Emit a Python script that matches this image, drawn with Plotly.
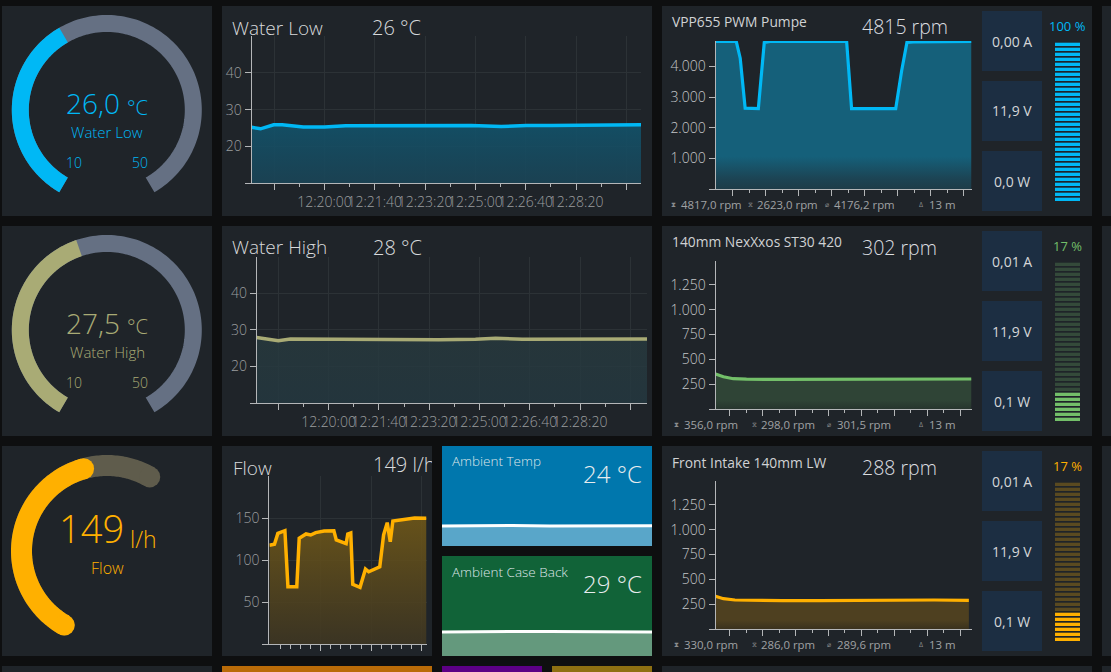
import numpy as np
import pandas as pd
import plotly.graph_objects as go

W, H = 1111, 672
FONT = "Open Sans"
BG = "#0e0f10"
PANEL = "#1f2429"
GRID = "#2c3236"
AXIS = "#b4b6b8"
TICKTXT = "#9b9d9f"
BOX = "#1c2e42"
TRACK = "#657083"

# ---------- data ----------
gauge_names = ["Water Low", "Water High", "Flow"]
gauge_values = [26.0, 27.5, 149]
gauge_labels = ["26,0", "27,5", "149"]
gauge_units = ["°C", "°C", "l/h"]
gauge_ranges = [(10, 50), (10, 50), (0, 200)]

low_secs = [0, 18, 44, 61, 103, 145, 187, 253, 337, 437, 496, 546, 596, 671, 774]
low_vals = [25.2, 24.8, 25.9, 25.9, 25.3, 25.3, 25.6, 25.6, 25.65, 25.7, 25.4, 25.7, 25.7, 25.8, 25.9]
high_secs = [0, 17, 43, 67, 130, 196, 362, 435, 475, 528, 594, 776]
high_vals = [27.9, 27.5, 27.0, 27.5, 27.44, 27.26, 27.26, 27.44, 27.7, 27.44, 27.44, 27.5]
flow_secs = [0, 25, 42, 59, 77, 92, 136, 148, 182, 205, 230, 272, 320, 332, 381, 389, 404, 414, 450,
             477, 493, 548, 567, 585, 600, 613, 669, 721, 780]
flow_vals = [117.5, 118.7, 131.7, 133.7, 134.9, 68.3, 68.3, 125.8, 131, 129.8, 132.6, 134.5, 134.9, 123.8,
             119.4, 131, 132.2, 71, 67.5, 89.3, 86, 92, 129.8, 144.5, 121.8, 146.4, 148.8, 150, 149.6]
pump_secs = [0, 63, 75, 90, 130, 148, 166, 398, 413, 547, 565, 581, 600, 777]
pump_vals = [4815, 4815, 4270, 2640, 2623, 4780, 4815, 4815, 2623, 2623, 3860, 4780, 4800, 4815]
nex_secs = [0, 24, 54, 94, 200, 400, 600, 777]
nex_vals = [352, 325, 305, 300, 298, 300, 302, 302]
front_secs = [0, 24, 59, 114, 204, 314, 534, 594, 664, 769]
front_vals = [330, 305, 292, 288, 286, 286, 292, 288, 292, 288]
temp_secs = [0, 120, 260, 400, 540, 680, 780]
temp_vals = [24.0, 24.01, 24.03, 24.0, 24.01, 24.0, 24.01]
case_vals = [29.0, 29.02, 29.03, 29.02, 29.01, 29.02, 29.0]

water_ticks = ["12:18:20", "12:20:00", "12:21:40", "12:23:20", "12:25:00", "12:26:40", "12:28:20", "12:30:00"]
water_labels = ["", "12:20:00", "12:21:40", "12:23:20", "12:25:00", "12:26:40", "12:28:20", ""]
water_minor = ["12:19:10", "12:20:50", "12:22:30", "12:24:10", "12:25:50", "12:27:30", "12:29:10"]
flow_ticks = ["12:21:40", "12:25:50", "12:30:00"]
flow_minor = ["12:18:20", "12:19:10", "12:20:00", "12:20:50", "12:22:30", "12:23:20", "12:24:10", "12:25:00",
              "12:26:40", "12:27:30", "12:28:20", "12:29:10"]

fan_names = ["VPP655 PWM Pumpe", "140mm NexXxos ST30 420", "Front Intake 140mm LW"]
fan_current = ["4815 rpm", "302 rpm", "288 rpm"]
fan_stats = [["4817,0 rpm", "2623,0 rpm", "4176,2 rpm", "13 m"],
             ["356,0 rpm", "298,0 rpm", "301,5 rpm", "13 m"],
             ["330,0 rpm", "286,0 rpm", "289,6 rpm", "13 m"]]
fan_boxes = [["0,00 A", "11,9 V", "0,0 W"], ["0,01 A", "11,9 V", "0,1 W"], ["0,01 A", "11,9 V", "0,1 W"]]
fan_percent = ["100 %", "17 %", "17 %"]
fan_lit = [32, 6, 6]
SEGMENTS = 32

pump_ticks, pump_labels = [0, 1000, 2000, 3000, 4000], ["", "1.000", "2.000", "3.000", "4.000"]
fan_ticks, fan_labels = [0, 250, 500, 750, 1000, 1250], ["", "250", "500", "750", "1.000", "1.250"]

# ---------- helpers ----------
DAY = "2024-01-01 "
def stamp(start, secs):
    base = pd.Timestamp(DAY + start)
    return [str(base + pd.to_timedelta(s, "s")) for s in secs]
def day(times):
    return [DAY + t for t in times]
def dx(a, b):
    return [a / W, b / W]
def dy(a, b):
    return [1 - b / H, 1 - a / H]

fig = go.Figure()
layout = dict(width=W, height=H, margin=dict(l=0, r=0, t=0, b=0), paper_bgcolor=BG,
              plot_bgcolor="rgba(0,0,0,0)", showlegend=False, autosize=False, barmode="overlay",
              font=dict(family=FONT, color="#d0d2d4"), hovermode=False)
shapes, notes = [], []
axis_no = [0]

def new_axes(xdom, ydom, xcfg, ycfg):
    axis_no[0] += 1
    n = axis_no[0]
    sfx = "" if n == 1 else str(n)
    base = dict(fixedrange=True, zeroline=False, showgrid=False, showticklabels=False, ticks="", showline=False)
    layout["xaxis" + sfx] = {**base, "domain": xdom, "anchor": "y" + sfx, **xcfg}
    layout["yaxis" + sfx] = {**base, "domain": ydom, "anchor": "x" + sfx, **ycfg}
    return "x" + sfx, "y" + sfx

def rect(x0, y0, x1, y1, color):
    shapes.append(dict(type="rect", xref="paper", yref="paper", x0=x0 / W, x1=x1 / W, y0=1 - y0 / H, y1=1 - y1 / H,
                       fillcolor=color, line=dict(width=0), layer="below"))

def text(x, y, s, size, color="#d8dadc", anchor="left", weight=300):
    shift = {"left": -2, "right": 2, "center": 0}[anchor]
    notes.append(dict(xref="paper", yref="paper", x=x / W, y=1 - y / H, text=s, showarrow=False, xanchor=anchor,
                      yanchor="middle", xshift=shift, font=dict(family=FONT, size=size, color=color, weight=weight)))

# ---------- panels ----------
for r0, r1 in [(6, 216), (226, 436), (446, 656), (666, 700)]:
    rect(2, r0, 212, r1, PANEL)
    rect(662, r0, 1092, r1, PANEL)
    rect(1102, r0, 1140, r1, PANEL)
rect(222, 6, 652, 216, PANEL)
rect(222, 226, 652, 436, PANEL)
rect(222, 446, 432, 656, PANEL)
rect(442, 446, 652, 546, "#0077ad")
rect(442, 556, 652, 656, "#116338")
rect(222, 666, 432, 700, "#b96b08")
rect(442, 666, 542, 700, "#5c0085")
rect(552, 666, 652, 700, "#8e7012")

# ---------- gauges ----------
overlay_x, overlay_y = new_axes([0, 1], [0, 1], dict(range=[0, W]), dict(range=[H, 0]))
gauge_centers = [(106.8, 110), (106.8, 330), (107, 551)]
gauge_specs = [dict(r=86.5, lw=17, a0=-150, a1=150, color="#00b8f5", track=TRACK, round=False),
               dict(r=86.5, lw=17, a0=-150, a1=150, color="#a9ab75", track=TRACK, round=False),
               dict(r=85.5, lw=21, a0=-150, a1=30, color="#ffb000", track="#5f5c4c", round=True)]

def arc(center, r, a, b):
    t = np.radians(np.linspace(a, b, 160))
    return center[0] + r * np.sin(t), center[1] - r * np.cos(t)

for c, val, rng, sp in zip(gauge_centers, gauge_values, gauge_ranges, gauge_specs):
    stop = sp["a0"] + (val - rng[0]) / (rng[1] - rng[0]) * (sp["a1"] - sp["a0"])
    for a, b, col in [(sp["a0"], sp["a1"], sp["track"]), (sp["a0"], stop, sp["color"])]:
        xs, ys = arc(c, sp["r"], a, b)
        fig.add_trace(go.Scatter(x=xs, y=ys, mode="lines", line=dict(color=col, width=sp["lw"], simplify=False),
                                 xaxis=overlay_x, yaxis=overlay_y, hoverinfo="skip"))
        if sp["round"]:
            fig.add_trace(go.Scatter(x=[xs[0], xs[-1]], y=[ys[0], ys[-1]], mode="markers",
                                     marker=dict(color=col, size=sp["lw"], line=dict(width=0)),
                                     xaxis=overlay_x, yaxis=overlay_y, hoverinfo="skip"))

for i, (c, sp) in enumerate(zip(gauge_centers, gauge_specs)):
    col = sp["color"]
    if i < 2:
        text(120, c[1] - 7, gauge_labels[i], 28, col, "right")
        text(127, c[1] - 3, gauge_units[i], 20, col)
        text(107, c[1] + 22, gauge_names[i], 15, col, "center")
        text(74, c[1] + 52, str(gauge_ranges[i][0]), 14, col, "center")
        text(140, c[1] + 52, str(gauge_ranges[i][1]), 14, col, "center")
    else:
        text(124, c[1] - 23, gauge_labels[i], 38, col, "right")
        text(130, c[1] - 12, gauge_units[i], 23, col)
        text(107, c[1] + 17, gauge_names[i], 16, col, "center")

# ---------- water / flow time series ----------
def series(xd, yd, xs, ys, color, grad, xrange, yrange, ytv, ytt, xtv=None, xtt=None, xminor=None, ygrid=True,
           ytop=None, xgrid=True, tickcol=TICKTXT, fstop=None, minorlen=3, lw=3.5):
    xcfg = dict(type="date", range=xrange, showline=True, linecolor=AXIS, linewidth=1, tickfont=dict(size=14, color=tickcol, weight=300))
    if xtv is not None:
        xcfg.update(tickmode="array", tickvals=xtv, ticks="outside", ticklen=6, tickcolor=AXIS, tickwidth=1, showgrid=xgrid,
                    gridcolor=GRID, gridwidth=1, tickangle=0)
        if xtt is not None:
            xcfg.update(ticktext=xtt, showticklabels=True)
        else:
            xcfg.update(ticktext=[""] * len(xtv))
        if xminor is not None:
            xcfg["minor"] = dict(tickmode="array", tickvals=xminor, ticks="outside", ticklen=minorlen, tickcolor=AXIS, tickwidth=1, showgrid=False)
    ycfg = dict(range=yrange, showline=True, linecolor=AXIS, linewidth=1, tickmode="array", tickvals=ytv, ticktext=ytt,
                ticks="outside", ticklen=6, tickcolor=AXIS, tickwidth=1, showticklabels=True, showgrid=ygrid, gridcolor=GRID,
                gridwidth=1, tickfont=dict(size=14, color=tickcol, weight=300), tickangle=0)
    if ytop is not None:
        ycfg["minor"] = dict(tickmode="array", tickvals=[ytop], ticks="", showgrid=True, gridcolor=GRID, gridwidth=1)
    xa, ya = new_axes(xd, yd, xcfg, ycfg)
    fig.add_trace(go.Scatter(x=xs, y=ys, mode="lines", line=dict(color=color, width=lw), fill="tozeroy",
                             fillgradient=dict(type="vertical", colorscale=grad, start=yrange[0], stop=yrange[1] if fstop is None else fstop),
                             xaxis=xa, yaxis=ya, hoverinfo="skip", cliponaxis=False))
    return xa, ya

W_T = [10, 20, 30, 40]
W_L = ["", "20", "30", "40"]
series(dx(251.5, 641), dy(36, 183.3), stamp("12:17:35", low_secs), low_vals, "#00b8f5",
       [[0, "rgba(26,68,86,0.9)"], [0.4, "rgba(18,82,106,0.9)"], [1, "rgba(18,82,106,0.9)"]],
       [DAY + "12:17:35", DAY + "12:30:29"], [10, 50], W_T, W_L, day(water_ticks), water_labels, day(water_minor), ytop=50)
series(dx(256.7, 647), dy(256.7, 403), stamp("12:17:37", high_secs), high_vals, "#a9ab75",
       [[0, "rgba(36,56,64,0.85)"], [0.5, "rgba(40,58,62,0.8)"], [1, "rgba(46,58,56,0.8)"]],
       [DAY + "12:17:37", DAY + "12:30:33"], [10, 50], W_T, W_L, day(water_ticks), water_labels, day(water_minor), ytop=50)
series(dx(269.4, 426.5), dy(476, 644), stamp("12:17:25", flow_secs), flow_vals, "#ffb000",
       [[0, "rgba(62,54,34,0.88)"], [1, "rgba(112,88,24,0.88)"]],
       [DAY + "12:17:25", DAY + "12:30:25"], [0, 200], [0, 50, 100, 150], ["", "50", "100", "150"],
       day(flow_ticks), None, day(flow_minor), ytop=200, fstop=150, minorlen=4)

# clipped flow title value
clip_x, clip_y = new_axes(dx(222, 432), dy(446, 656), dict(range=[222, 432]), dict(range=[656, 446]))
fig.add_trace(go.Scatter(x=[373], y=[467], mode="text", text=["149 l/h"], textposition="middle right",
                         textfont=dict(family=FONT, size=20, color="#d8dadc", weight=300), xaxis=clip_x, yaxis=clip_y,
                         hoverinfo="skip", cliponaxis=True))

text(232, 27.5, "Water Low", 19)
text(372, 27.5, "26 °C", 20)
text(232, 247.5, "Water High", 19)
text(372.5, 247.5, "28 °C", 20)
text(232.5, 467.5, "Flow", 19)

# ---------- tiles ----------
for (y0, y1), vals, yr, title, val in [((446, 546), temp_vals, [23.0, 28.0], "Ambient Temp", "24 °C"),
                                       ((556, 656), case_vals, [27.8, 32.8], "Ambient Case Back", "29 °C")]:
    xa, ya = new_axes(dx(442, 652), dy(y0, y1), dict(range=[0, 780]), dict(range=yr))
    fig.add_trace(go.Scatter(x=temp_secs, y=vals, mode="lines", line=dict(color="#ffffff", width=3), fill="tozeroy",
                             fillcolor="rgba(255,255,255,0.35)", xaxis=xa, yaxis=ya, hoverinfo="skip"))
    text(452.3, y0 + 15.5, title, 13.5, "#dfe5e8")
    text(641.5, y0 + 27, val, 24, "#e8ecee", "right")

# ---------- fans ----------
fan_data = [(pump_secs, pump_vals), (nex_secs, nex_vals), (front_secs, front_vals)]
fan_colors = ["#00b8f5", "#73bf69", "#ffb000"]
fan_grads = [[[0, "rgba(30,60,72,1)"], [0.07, "rgba(28,68,84,1)"], [0.22, "rgba(21,96,122,1)"], [1, "rgba(21,96,122,1)"]],
             [[0, "rgba(39,53,46,1)"], [0.3, "rgba(47,68,54,1)"], [1, "rgba(47,68,54,1)"]],
             [[0, "rgba(58,50,30,1)"], [0.3, "rgba(78,64,32,1)"], [1, "rgba(78,64,32,1)"]]]
fan_unlit = ["#00b8f5", "#344a3a", "#5a4a20"]
row_tops = [0, 220, 440]
fan_tops = [41, 261, 481]
fan_bottoms = [189, 409, 629]
fan_ranges = [[0, 4830], [0, 1490], [0, 1490]]
fan_starts = ["12:17:27", "12:17:37", "12:17:37"]
fan_stops = [4830, 300, 300]
fan_name_y = [22, 241.7, 462]
fan_val_y = [27, 247.5, 467]
pct_y = [26, 246.3, 466]
foot_y = [204, 424, 644]
foot_x = [[673, 680.7, 750, 757, 826.7, 834, 920.7, 929.3],
          [677, 684, 754, 761, 829, 837, 920.7, 929.3],
          [677, 684, 754, 761, 829, 837, 920.7, 929.3]]
foot_icons = ["⧗", "⧖", "⌀", "∆"]

for i in range(3):
    secs, vals = fan_data[i]
    ytv, ytt = (pump_ticks, pump_labels) if i == 0 else (fan_ticks, fan_labels)
    start = pd.Timestamp(DAY + fan_starts[i])
    end = str(start + pd.to_timedelta(777, "s"))
    series(dx(715.5, 971.5), dy(fan_tops[i], fan_bottoms[i]), stamp(fan_starts[i], secs), vals, fan_colors[i], fan_grads[i],
           [str(start), end], fan_ranges[i], ytv, ytt, day(water_ticks), None, day(water_minor), ygrid=False,
           xgrid=False, tickcol="#c4c6c8", fstop=fan_stops[i], lw=3.2)
    text(672.3, fan_name_y[i], fan_names[i], 13.8, "#d0d2d4", weight=400)
    text(862, fan_val_y[i], fan_current[i], 19.5, "#dcdee0")
    top = row_tops[i]
    for k, label in enumerate(fan_boxes[i]):
        y0 = 11 + top + k * 70
        rect(982, y0, 1042, y0 + 60, BOX)
        text(1012, y0 + 30, label, 14, "#d4d6d8", "center", 400)
    for k, label in enumerate(fan_stats[i]):
        text(foot_x[i][2 * k], foot_y[i], foot_icons[k], 7, "#8c8e90", "center", 400)
        text(foot_x[i][2 * k + 1], foot_y[i], label, 11.4, "#a0a2a4", weight=400)
    text(1067, pct_y[i], fan_percent[i], 13, fan_colors[i], "center", 400)
    idx = list(range(SEGMENTS))
    cols = [fan_colors[i] if s < fan_lit[i] else fan_unlit[i] for s in idx]
    xa, ya = new_axes(dx(1055, 1080), dy(40 + top, 201 + top), dict(range=[0, 1]), dict(range=[-0.33, 31.87]))
    fig.add_trace(go.Bar(x=[1] * SEGMENTS, y=idx, orientation="h", width=0.66, marker=dict(color=cols, line=dict(width=0)),
                         xaxis=xa, yaxis=ya, hoverinfo="skip"))

layout["shapes"] = shapes
layout["annotations"] = notes
fig.update_layout(**layout)
fig.write_html("out.html", post_script="document.body.style.margin='0';document.body.style.overflow='hidden';",
               config={"displayModeBar": False, "responsive": False})
